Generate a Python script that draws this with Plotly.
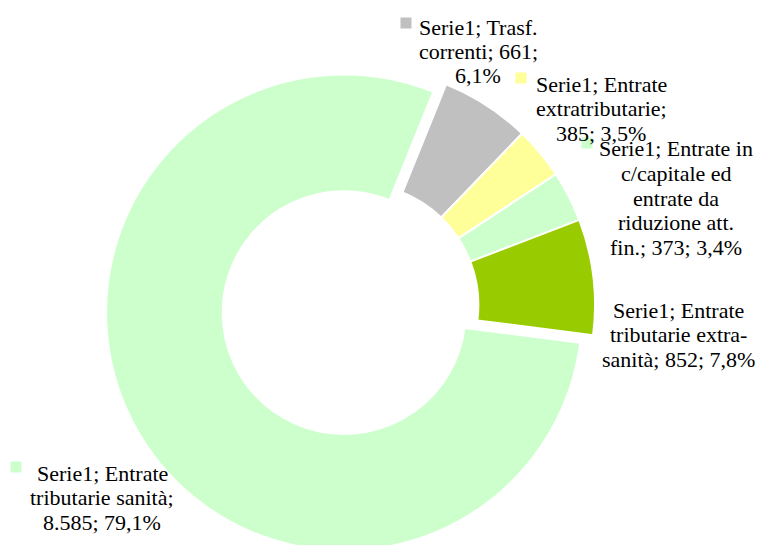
import plotly.graph_objects as go

# Data
categories = ["Trasf. correnti", "Entrate extratributarie",
              "Entrate in c/capitale ed entrate da riduzione att. fin.",
              "Entrate tributarie extra-sanità", "Entrate tributarie sanità"]
values = [661, 385, 373, 852, 8585]
series_name = "Serie1"

# Styles
COLORS = ["#C0C0C0", "#FFFF99", "#CCFFCC", "#99CC00", "#CCFFCC"]
PULL = [0.0, 0.0, 0.0, 0.0, 0.063]
FONT = "Liberation Serif, Times New Roman, serif"
FONT_SIZE = 22
LINE_STEP = 24.5
W, H = 758, 560  # a bit taller than the window so the ring is cut at the bottom

# label text, wrapped like the original chart
LABEL_LINES = [
    ["{s}; Trasf.", "correnti; {v};", "{p}"],
    ["{s}; Entrate", "extratributarie;", "{v}; {p}"],
    ["{s}; Entrate in", "c/capitale ed", "entrate da", "riduzione att.", "fin.; {v}; {p}"],
    ["{s}; Entrate", "tributarie extra-", "sanità; {v}; {p}"],
    ["{s}; Entrate", "tributarie sanità;", "{v}; {p}"],
]
# (text center x, first line y, key x, key y) in pixels from top-left; None = no key
LABEL_POS = [
    (478, 27, 406, 23),
    (601, 84, 521, 78),
    (676, 149, 587, 143),
    (678, 310, None, None),
    (102, 473, 16, 467),
]

total = sum(values)


def fmt_int(v):
    return f"{v:,}".replace(",", ".")


def fmt_pct(v):
    return f"{v / total * 100:.1f}%".replace(".", ",")


fig = go.Figure(go.Pie(
    labels=categories,
    values=values,
    sort=False,
    direction="clockwise",
    rotation=22,
    hole=0.51,
    pull=PULL,
    marker=dict(colors=COLORS, line=dict(color="#FFFFFF", width=2)),
    textinfo="none",
    hoverinfo="label+value+percent",
    domain=dict(x=[104 / W, 610 / W], y=[1 - 558 / H, 1 - 52 / H]),
))

annotations = []
shapes = []
for i, lines in enumerate(LABEL_LINES):
    tx, ty, kx, ky = LABEL_POS[i]
    # one annotation per line, to keep the tighter line spacing of the original
    for j, l in enumerate(lines):
        annotations.append(dict(
            text=l.format(s=series_name, v=fmt_int(values[i]), p=fmt_pct(values[i])),
            x=tx / W, y=1 - (ty + j * LINE_STEP) / H, xref="paper", yref="paper",
            xanchor="center", yanchor="middle", align="center", showarrow=False,
            font=dict(family=FONT, size=FONT_SIZE, color="#000000"),
        ))
    if kx is not None:
        shapes.append(dict(
            type="rect", xref="paper", yref="paper",
            x0=(kx - 5.5) / W, x1=(kx + 5.5) / W, y0=1 - (ky + 5.5) / H, y1=1 - (ky - 5.5) / H,
            fillcolor=COLORS[i], line=dict(width=0),
        ))

fig.update_layout(
    width=W, height=H,
    margin=dict(l=0, r=0, t=0, b=0),
    paper_bgcolor="#FFFFFF",
    plot_bgcolor="#FFFFFF",
    font=dict(family=FONT, size=FONT_SIZE, color="#000000"),
    showlegend=False,
    annotations=annotations,
    shapes=shapes,
)

fig.write_html(
    "out.html",
    config={"displayModeBar": False},
    post_script="document.body.style.margin='0';document.body.style.overflow='hidden';",
)
